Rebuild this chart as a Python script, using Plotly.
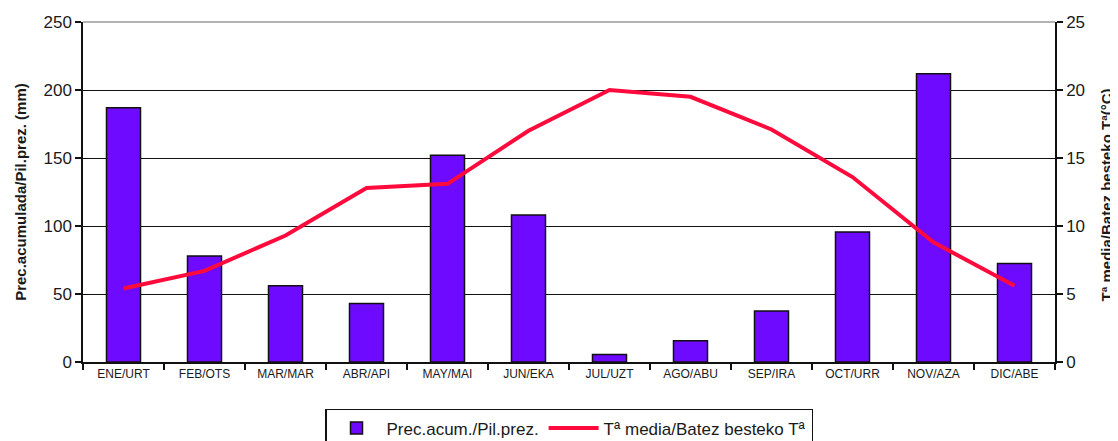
import plotly.graph_objects as go

months = ["ENE/URT", "FEB/OTS", "MAR/MAR", "ABR/API", "MAY/MAI", "JUN/EKA",
          "JUL/UZT", "AGO/ABU", "SEP/IRA", "OCT/URR", "NOV/AZA", "DIC/ABE"]
precip = [187, 78, 56, 43, 152, 108, 5.5, 15.6, 37.5, 95.6, 212, 72.5]
temp = [5.4, 6.7, 9.3, 12.8, 13.1, 17.0, 20.0, 19.5, 17.1, 13.6, 8.8, 5.6]

bar_name = "Prec.acum./Pil.prez."
line_name = "Tª media/Batez besteko Tª"
left_title = "Prec.acumulada/Pil.prez. (mm)"
right_title = "Tª media/Batez besteko Tª(°C)"

FONT = "Liberation Sans, Arial, sans-serif"
TXT = "#1a1a1a"

fig = go.Figure()
fig.add_trace(go.Bar(
    x=months, y=precip, name=bar_name,
    marker=dict(color="#6E0AFF", line=dict(color="#111111", width=1.5)),
    width=0.42, yaxis="y",
))
fig.add_trace(go.Scatter(
    x=months, y=temp, name=line_name, mode="lines",
    line=dict(color="#FF0A3C", width=4), yaxis="y2",
))

fig.update_layout(
    width=1110, height=433,
    margin=dict(l=75, r=63, t=14, b=79),
    paper_bgcolor="white", plot_bgcolor="white",
    font=dict(family=FONT, color=TXT),
    showlegend=True,
    bargap=0.58,
    xaxis=dict(
        type="category", showgrid=False, showline=True, linecolor="#111111", linewidth=1.5,
        ticks="outside", ticklen=6, tickwidth=1.5, tickcolor="#111111",
        tickson="boundaries", tickfont=dict(size=12, color=TXT), zeroline=False,
        range=[-0.5, 11.5], automargin=False,
    ),
    yaxis=dict(
        range=[0, 250], tickvals=[0, 50, 100, 150, 200, 250], showgrid=True,
        gridcolor="#111111", gridwidth=1.2, showline=True, linecolor="#111111", linewidth=1.5,
        ticks="outside", ticklen=6, tickwidth=1.5, tickcolor="#111111",
        tickfont=dict(size=17, color=TXT), zeroline=False, automargin=False,
    ),
    yaxis2=dict(
        range=[0, 25], tickvals=[0, 5, 10, 15, 20, 25], overlaying="y", side="right",
        showgrid=False, showline=True, linecolor="#111111", linewidth=1.5,
        ticks="outside", ticklen=6, tickwidth=1.5, tickcolor="#111111",
        tickfont=dict(size=17, color=TXT), zeroline=False, automargin=False,
    ),
    legend=dict(
        orientation="h", x=0.5, xanchor="center", xref="paper",
        y=0.074, yanchor="top", yref="container",
        bordercolor="#111111", borderwidth=1.5, bgcolor="white",
        font=dict(size=17, color=TXT), itemwidth=50, tracegroupgap=0,
    ),
    annotations=[
        dict(text="<b>" + left_title + "</b>", xref="paper", yref="paper",
             x=-0.065, y=0.5, xanchor="center", yanchor="middle", textangle=-90,
             showarrow=False, font=dict(size=15, color=TXT)),
        dict(text="<b>" + right_title + "</b>", xref="paper", yref="paper",
             x=1.0525, y=0.49, xanchor="center", yanchor="middle", textangle=-90,
             showarrow=False, font=dict(size=15, color=TXT)),
    ],
    shapes=[
        dict(type="line", xref="paper", yref="paper", x0=0, x1=1, y0=1, y1=1,
             line=dict(color="#9a9a9a", width=1.5)),
    ],
)

fig.write_html("out.html")
